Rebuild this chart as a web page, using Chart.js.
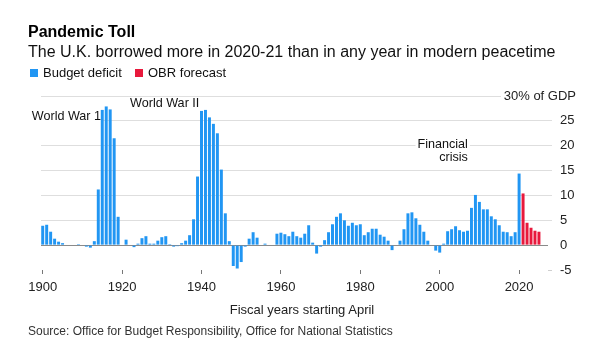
<!DOCTYPE html>
<html>
<head>
<meta charset="utf-8">
<script src="https://cdn.jsdelivr.net/npm/chart.js@4/dist/chart.umd.min.js"></script>
<style>
html,body{margin:0;padding:0;background:#fff;}
#wrap{position:relative;width:600px;height:356px;overflow:hidden;font-family:"Liberation Sans",Arial,sans-serif;color:#111;}
#wrap canvas{position:absolute;left:0;top:0;}
.t{position:absolute;white-space:nowrap;}
#title{left:28px;top:22px;font-size:16px;font-weight:bold;line-height:20px;color:#000;}
#sub{left:28px;top:42px;font-size:16px;line-height:20px;color:#111;}
.sw{position:absolute;width:8px;height:8px;}
.lg{font-size:13px;line-height:16px;color:#111;}
#xtitle{left:0;width:604px;text-align:center;top:302px;font-size:13px;line-height:16px;color:#222;}
#src{left:28px;top:323px;font-size:12px;line-height:16px;color:#333;}
</style>
</head>
<body>
<div id="wrap">
  <canvas id="c" width="600" height="356"></canvas>
  <div class="t" id="title">Pandemic Toll</div>
  <div class="t" id="sub">The U.K. borrowed more in 2020-21 than in any year in modern peacetime</div>
  <div class="sw" style="left:30px;top:69px;background:#2196f3"></div>
  <div class="t lg" style="left:43px;top:65px">Budget deficit</div>
  <div class="sw" style="left:135px;top:69px;background:#e8193c"></div>
  <div class="t lg" style="left:148px;top:65px">OBR forecast</div>
  <div class="t" id="xtitle">Fiscal years starting April</div>
  <div class="t" id="src">Source: Office for Budget Responsibility, Office for National Statistics</div>
</div>
<script>
// ---- data (percent of GDP) ----
const deficitYears = [
  1900,1901,1902,1903,1904,1905,1906,1907,1908,1909,
  1910,1911,1912,1913,1914,1915,1916,1917,1918,1919,
  1920,1921,1922,1923,1924,1925,1926,1927,1928,1929,
  1930,1931,1932,1933,1934,1935,1936,1937,1938,1939,
  1940,1941,1942,1943,1944,1945,1946,1947,1948,1949,
  1950,1951,1952,1953,1954,1955,1956,1957,1958,1959,
  1960,1961,1962,1963,1964,1965,1966,1967,1968,1969,
  1970,1971,1972,1973,1974,1975,1976,1977,1978,1979,
  1980,1981,1982,1983,1984,1985,1986,1987,1988,1989,
  1990,1991,1992,1993,1994,1995,1996,1997,1998,1999,
  2000,2001,2002,2003,2004,2005,2006,2007,2008,2009,
  2010,2011,2012,2013,2014,2015,2016,2017,2018,2019,
  2020
];
const deficitValues = [
  3.9, 4.1, 2.7, 1.3, 0.7, 0.4, 0.1, -0.1, 0.1, 0.2,
  -0.1, -0.3, -0.5, 0.8, 11.2, 27.2, 27.9, 27.3, 21.5, 5.7,
  -0.1, 1.1, 0.1, -0.4, 0.3, 1.4, 1.8, 0.3, 0.3, 0.9,
  1.6, 1.8, 0.2, -0.3, -0.2, 0.4, 0.9, 2.0, 5.2, 13.8,
  27.0, 27.2, 25.7, 24.4, 22.5, 15.2, 6.4, 0.8, -4.2, -4.7,
  -3.4, -0.3, 1.3, 2.6, 1.5, -0.1, 0.3, 0.1, 0.1, 2.3,
  2.5, 2.2, 1.8, 2.7, 1.8, 1.5, 2.3, 4.0, 0.5, -1.7,
  -0.3, 1.0, 2.6, 4.2, 5.7, 6.4, 5.0, 3.9, 4.5, 4.0,
  4.2, 2.0, 2.6, 3.3, 3.3, 2.1, 1.7, 0.9, -1.0, 0.0,
  0.9, 3.2, 6.4, 6.6, 5.4, 4.1, 2.7, 0.9, 0.0, -1.1,
  -1.5, 0.3, 2.8, 3.2, 3.8, 3.0, 2.7, 2.9, 7.5, 10.1,
  8.7, 7.2, 7.2, 5.8, 5.2, 4.0, 2.7, 2.6, 1.8, 2.6,
  14.4
];
const forecastYears = [2021, 2022, 2023, 2024, 2025];
const forecastValues = [10.4, 4.5, 3.5, 2.9, 2.7];
const xTickYears = [1900, 1920, 1940, 1960, 1980, 2000, 2020];
const yTickValues = [-5, 0, 5, 10, 15, 20, 25, 30];
const topTickText = '30% of GDP';
const annotationTexts = [['World War 1'], ['World War II'], ['Financial', 'crisis']];

// ---- styling / layout ----
const FONT = '"Liberation Sans", Arial, sans-serif';
const BLUE = '#2196f3';
const RED = '#e8193c';
const GRID = '#dedede';
const annotationPlacement = [
  {x: 1914.7, y: 25.8, align: 'right'},
  {x: 1922.0, y: 28.4, align: 'left'},
  {x: 2007.1, y: 20.3, align: 'right'}
];
const ANN_SIZE = 12.6;

const overlay = {
  id: 'overlay',
  beforeDatasetsDraw(chart) {
    const {ctx, scales: {x, y}, chartArea} = chart;
    ctx.save();
    const y30 = Math.round(y.getPixelForValue(30)) + 0.5;
    ctx.strokeStyle = GRID; ctx.lineWidth = 1;
    ctx.beginPath(); ctx.moveTo(chartArea.left, y30); ctx.lineTo(501, y30); ctx.stroke();
    ctx.font = ANN_SIZE + 'px ' + FONT;
    annotationTexts.forEach((lines, i) => {
      const p = annotationPlacement[i];
      const px = x.getPixelForValue(p.x), py = y.getPixelForValue(p.y);
      lines.forEach((ln, j) => {
        const w = ctx.measureText(ln).width;
        const lx = p.align === 'right' ? px - w : px;
        ctx.fillStyle = '#fff';
        ctx.fillRect(lx - 2, py + j * 13.4 - 7, w + 4, 14);
      });
    });
    ctx.restore();
  },
  afterDatasetsDraw(chart) {
    const {ctx, scales: {x, y}} = chart;
    ctx.save();
    ctx.font = ANN_SIZE + 'px ' + FONT;
    ctx.fillStyle = '#111';
    ctx.textBaseline = 'middle';
    annotationTexts.forEach((lines, i) => {
      const p = annotationPlacement[i];
      const px = x.getPixelForValue(p.x), py = y.getPixelForValue(p.y);
      ctx.textAlign = p.align;
      lines.forEach((ln, j) => ctx.fillText(ln, px, py + j * 13.4));
    });
    ctx.font = '13px ' + FONT;
    ctx.textAlign = 'right';
    ctx.fillStyle = '#222';
    ctx.fillText(topTickText, 576, y.getPixelForValue(30));
    ctx.restore();
  }
};

new Chart(document.getElementById('c'), {
  type: 'bar',
  data: {
    datasets: [
      {
        label: 'Budget deficit',
        data: deficitYears.map((yr, i) => ({x: yr, y: deficitValues[i]})),
        backgroundColor: BLUE,
        barPercentage: 0.75, categoryPercentage: 1, grouped: false
      },
      {
        label: 'OBR forecast',
        data: forecastYears.map((yr, i) => ({x: yr, y: forecastValues[i]})),
        backgroundColor: RED,
        barPercentage: 0.75, categoryPercentage: 1, grouped: false
      }
    ]
  },
  options: {
    responsive: false,
    devicePixelRatio: 1,
    animation: false,
    layout: {padding: {left: 41, top: 96, right: 0, bottom: 0}},
    plugins: {legend: {display: false}, tooltip: {enabled: false}},
    scales: {
      x: {
        type: 'linear', min: 1899.57, max: 2027.28, offset: false,
        grid: {display: true, drawOnChartArea: false, drawTicks: true, tickLength: 4, tickColor: '#777', offset: false},
        border: {display: false},
        afterBuildTicks: s => { s.ticks = xTickYears.map(v => ({value: v})); },
        ticks: {font: {family: FONT, size: 13}, color: '#222', padding: 6, maxRotation: 0, autoSkip: false,
                callback: v => String(v)},
        afterFit: s => { s.height = 86; }
      },
      y: {
        position: 'right', min: -5, max: 30,
        afterBuildTicks: s => { s.ticks = yTickValues.map(v => ({value: v})); },
        grid: {
          color: c => (c.tick && (c.tick.value === 30 || c.tick.value === -5)) ? 'rgba(0,0,0,0)' : (c.tick && c.tick.value === 0 ? '#8a8a8a' : GRID),
          tickColor: c => (c.tick && (c.tick.value === 30 || c.tick.value === 0)) ? 'rgba(0,0,0,0)' : (c.tick && c.tick.value === -5 ? '#cfcfcf' : GRID),
          tickLength: 4, lineWidth: 1
        },
        border: {display: false},
        ticks: {font: {family: FONT, size: 13}, color: '#222', padding: 8,
                callback: v => v === 30 ? '' : String(v)},
        afterFit: s => { s.width = 52; }
      }
    }
  },
  plugins: [overlay]
});
</script>
</body>
</html>
